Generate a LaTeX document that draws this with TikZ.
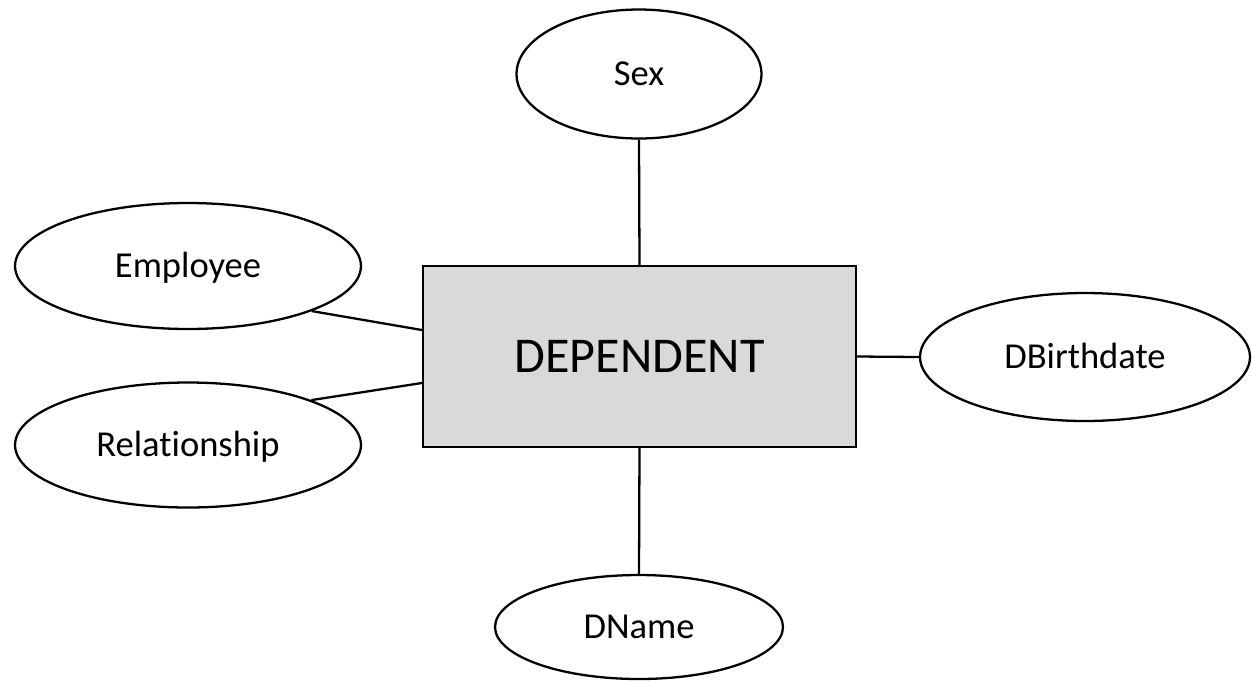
\documentclass[tikz,border=0pt]{standalone}
\usepackage{fontspec}
\setmainfont[Ligatures=NoCommon]{Carlito}
\usepackage{xcolor}
\definecolor{entgray}{RGB}{217,217,217}
\usepackage{tikz}
\usetikzlibrary{shapes.geometric}
\tikzstyle{erbox} = [
    draw=black,
    line width=1.3pt,
    inner sep=0pt,
    text centered,
    text depth=0pt,
]
\tikzstyle{entity} = [
    erbox,
    rectangle,
    fill=entgray,
    minimum width=8.66cm,
    minimum height=3.62cm,
    text height=18.4pt,
    font=\fontsize{28.5}{32}\selectfont,
]
\tikzstyle{attribute} = [
    erbox,
    ellipse,
    fill=white,
    text height=13.4pt,
    font=\fontsize{20.8}{24}\selectfont,
]
\tikzstyle{link} = [line width=1.3pt]

\begin{document}
\begin{tikzpicture}[x=0.02cm,y=-0.02cm]
    \useasboundingbox (0,0) rectangle (1252,681);

    % entity
    \node (dependent) at (639.5, 356.5) [entity] {DEPENDENT};

    % attributes
    \node (sex) at (639, 74) [attribute, minimum width=4.9cm, minimum height=2.58cm] {Sex};
    \node (employee) at (188, 266) [attribute, minimum width=6.92cm, minimum height=2.52cm] {Employee};
    \node (relationship) at (188, 445) [attribute, minimum width=6.92cm, minimum height=2.5cm] {Relationship};
    \node (birthdate) at (1085, 357) [attribute, minimum width=6.6cm, minimum height=2.56cm] {DBirthdate};
    \node (dname) at (639, 627) [attribute, minimum width=5.76cm, minimum height=2.08cm] {DName};

    % links
    \draw [link] (sex.south) to (dependent.north);
    \draw [link] (dname.north) to (dependent.south);
    \draw [link] (birthdate.west) to (dependent.east);
    \draw [link] (employee.-20) to ([yshift=0.53cm]dependent.west);
    \draw [link] (relationship.20) to ([yshift=-0.53cm]dependent.west);

\end{tikzpicture}
\end{document}
